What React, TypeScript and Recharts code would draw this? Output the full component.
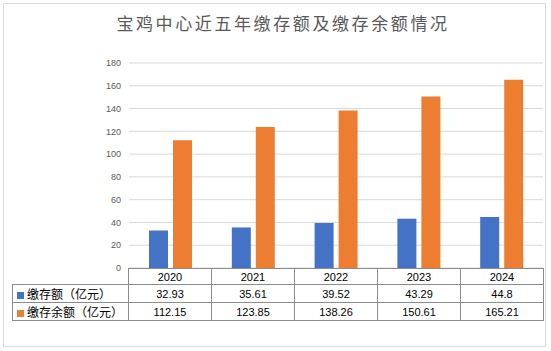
import React from 'react';
import { BarChart, Bar, XAxis, YAxis, CartesianGrid } from 'recharts';

// 宝鸡中心 缴存额 / 缴存余额 (亿元)
const years = ['2020', '2021', '2022', '2023', '2024'];
const deposits = [32.93, 35.61, 39.52, 43.29, 44.8];
const balances = [112.15, 123.85, 138.26, 150.61, 165.21];
const yTicks = [0, 20, 40, 60, 80, 100, 120, 140, 160, 180];

const seriesNames = ['缴存额（亿元）', '缴存余额（亿元）'];
const blue = '#4472C4';
const orange = '#ED7D31';

const data = years.map((y, i) => ({ year: y, deposit: deposits[i], balance: balances[i] }));

const font = "'Liberation Sans', 'Noto Sans CJK SC', sans-serif";
const tableLine = '1px solid #8c8c8c';

function DataTable() {
  const rows = [
    { name: seriesNames[0], color: blue, values: deposits },
    { name: seriesNames[1], color: orange, values: balances },
  ];
  const cell: React.CSSProperties = {
    width: 82,
    border: tableLine,
    textAlign: 'center',
    padding: 0,
    fontSize: 11,
    color: '#000',
  };
  return (
    <table
      style={{
        position: 'absolute',
        left: 12,
        top: 268,
        borderCollapse: 'collapse',
        tableLayout: 'fixed',
        fontFamily: font,
      }}
    >
      <tbody>
        <tr style={{ height: 16 }}>
          <td style={{ width: 115, padding: 0, borderRight: tableLine }} />
          {years.map((y) => (
            <td key={y} style={cell}>{y}</td>
          ))}
        </tr>
        {rows.map((r) => (
          <tr key={r.name} style={{ height: 16 }}>
            <td style={{ ...cell, width: 115, textAlign: 'left', fontSize: 12, whiteSpace: 'nowrap' }}>
              <span
                style={{
                  display: 'inline-block',
                  width: 7,
                  height: 7,
                  background: r.color,
                  margin: '0 3px 0 4px',
                }}
              />
              {r.name}
            </td>
            {r.values.map((v, i) => (
              <td key={i} style={cell}>{v}</td>
            ))}
          </tr>
        ))}
      </tbody>
    </table>
  );
}

export default function App() {
  return (
    <div style={{ position: 'absolute', left: 0, top: 0, width: 551, height: 351, background: '#fff', fontFamily: font }}>
      <div
        style={{
          position: 'absolute',
          left: 3,
          top: 3,
          width: 543,
          height: 344,
          boxSizing: 'border-box',
          border: '1px solid #d9d9d9',
        }}
      />
      <div
        style={{
          position: 'absolute',
          left: 0,
          top: 11,
          width: 566,
          textAlign: 'center',
          fontSize: 17,
          letterSpacing: 2.6,
          color: '#595959',
          fontFamily: "'Noto Sans CJK SC', sans-serif",
          lineHeight: '24px',
        }}
      >
        宝鸡中心近五年缴存额及缴存余额情况
      </div>
      <div style={{ position: 'absolute', left: 0, top: 0 }}>
        <BarChart
          width={551}
          height={351}
          data={data}
          margin={{ top: 63, right: 8, bottom: 83, left: 0 }}
          barGap={5}
          barSize={19}
        >
          <CartesianGrid vertical={false} stroke="#d9d9d9" />
          <XAxis dataKey="year" hide />
          <YAxis
            width={129}
            domain={[0, 180]}
            ticks={yTicks}
            axisLine={false}
            tickLine={false}
            tick={{ fill: '#595959', fontSize: 9 }}
            interval={0}
          />
          <Bar dataKey="deposit" fill={blue} isAnimationActive={false} />
          <Bar dataKey="balance" fill={orange} isAnimationActive={false} />
        </BarChart>
      </div>
      <DataTable />
    </div>
  );
}
